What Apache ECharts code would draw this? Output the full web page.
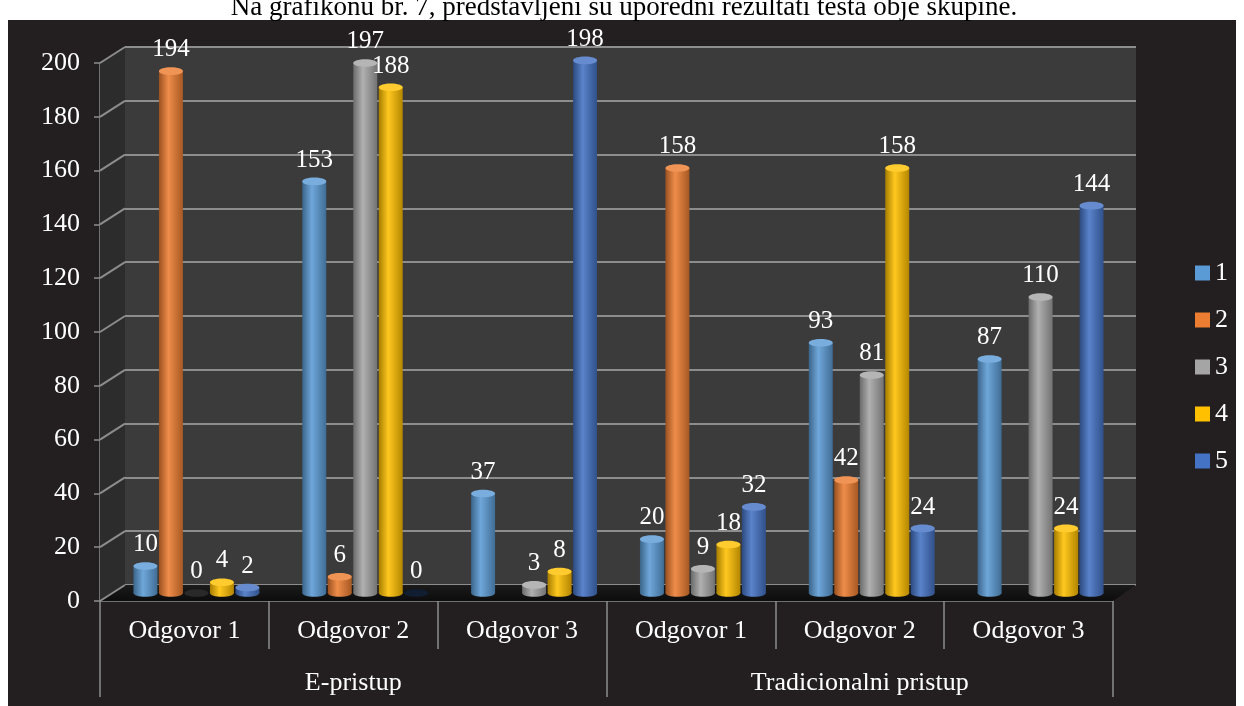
<!DOCTYPE html>
<html>
<head>
<meta charset="utf-8">
<script src="https://cdn.jsdelivr.net/npm/echarts@6/dist/echarts.min.js"></script>
<style>
  html, body { margin: 0; padding: 0; background: #ffffff; }
  #chart { width: 1244px; height: 706px; }
</style>
</head>
<body>
<div id="chart"></div>
<script>
// Answers per question, split by teaching approach
const categories = ['Odgovor 1', 'Odgovor 2', 'Odgovor 3', 'Odgovor 1', 'Odgovor 2', 'Odgovor 3'];
const groups = ['E-pristup', 'Tradicionalni pristup'];
const seriesNames = ['1', '2', '3', '4', '5'];
const values1 = [10, 153, 37, 20, 93, 87];
const values2 = [194, 6, null, 158, 42, null];
const values3 = [0, 197, 3, 9, 81, 110];
const values4 = [4, 188, 8, 18, 158, 24];
const values5 = [2, 0, 198, 32, 24, 144];
const yTicks = [0, 20, 40, 60, 80, 100, 120, 140, 160, 180, 200];
const caption = 'Na grafikonu br. 7, predstavljeni su uporedni rezultati testa obje skupine.';

const allValues = [values1, values2, values3, values4, values5];
const colors = ['#5b9bd5', '#ed7d31', '#a5a5a5', '#ffc000', '#4472c4'];
const FONT = '"Liberation Serif", "Times New Roman", serif';
const GRID_LINE = '#8d8d8d';
const DEPTH_X = 25, DEPTH_Y = 16;

function mix(hex, other, t) {
  const a = parseInt(hex.slice(1), 16), b = parseInt(other.slice(1), 16);
  const ch = (n, s) => (n >> s) & 255;
  const c = s => Math.round(ch(a, s) * (1 - t) + ch(b, s) * t);
  return 'rgb(' + c(16) + ',' + c(8) + ',' + c(0) + ')';
}

// Pseudo-3D walls: left side wall, floor and the slanted tick connectors
function renderWalls(params, api) {
  const cs = params.coordSys;
  const x = cs.x, y = cs.y, w = cs.width, h = cs.height;
  const children = [
    { type: 'polygon', shape: { points: [[x, y], [x + DEPTH_X, y - DEPTH_Y], [x + DEPTH_X, y + h - DEPTH_Y], [x, y + h]] },
      style: { fill: '#2c2c2c' } },
    { type: 'polygon', shape: { points: [[x, y + h], [x + w, y + h], [x + w + DEPTH_X - 2, y + h - DEPTH_Y], [x + DEPTH_X, y + h - DEPTH_Y]] },
      style: { fill: new echarts.graphic.LinearGradient(0, 0, 0, 1, [
        { offset: 0, color: '#1b1b1b' }, { offset: 1, color: '#0c0c0c' }]) } }
  ];
  yTicks.forEach(t => {
    const py = api.coord([0, t])[1];
    children.push({ type: 'line', shape: { x1: x, y1: py, x2: x + DEPTH_X, y2: py - DEPTH_Y },
      style: { stroke: GRID_LINE, lineWidth: 2 } });
  });
  return { type: 'group', children };
}

// Cylinder-shaped bar for one series
function cylinder(idx) {
  const base = colors[idx];
  return function (params, api) {
    const cat = api.value(0), v = api.value(1);
    const band = api.size([1, 0])[0];
    const pitch = band * 0.151, w = band * 0.142, r = w / 2, ry = r * 0.32;
    const p0 = api.coord([cat, 0]), p1 = api.coord([cat, v]);
    const cx = p0[0] + (idx - 2) * pitch;
    const body = new echarts.graphic.LinearGradient(0, 0, 1, 0, [
      { offset: 0, color: mix(base, '#000000', 0.35) },
      { offset: 0.4, color: mix(base, '#ffffff', 0.12) },
      { offset: 1, color: mix(base, '#000000', 0.3) }]);
    const children = [];
    if (v > 0) {
      children.push({ type: 'ellipse', shape: { cx: cx, cy: p0[1], rx: r, ry: ry }, style: { fill: body } });
      children.push({ type: 'rect', shape: { x: cx - r, y: p1[1], width: w, height: p0[1] - p1[1] }, style: { fill: body } });
      children.push({ type: 'ellipse', shape: { cx: cx, cy: p1[1], rx: r, ry: ry }, style: { fill: mix(base, '#ffffff', 0.18) } });
    } else {
      children.push({ type: 'ellipse', shape: { cx: cx, cy: p0[1], rx: r, ry: ry }, style: { fill: mix(base, '#000000', 0.75) } });
    }
    children.push({ type: 'text', style: { text: String(v), x: cx, y: p1[1] - ry - 5, align: 'center', verticalAlign: 'bottom',
      fill: '#ffffff', font: '25px ' + FONT } });
    return { type: 'group', children };
  };
}

const series = [
  { type: 'custom', name: 'walls', xAxisIndex: 0, yAxisIndex: 0, z: 1, silent: true,
    data: [[0, 0]], renderItem: renderWalls }
];
allValues.forEach((vals, i) => {
  series.push({
    type: 'custom', name: seriesNames[i], xAxisIndex: 3, yAxisIndex: 2, z: 3 + i,
    itemStyle: { color: colors[i] },
    encode: { x: 0, y: 1 },
    data: vals.map((v, c) => [c, v]).filter(d => d[1] !== null),
    renderItem: cylinder(i)
  });
});

const axisText = { color: '#ffffff', fontSize: 26, fontFamily: FONT };
const hiddenCat = { type: 'category', data: categories, show: false };

const option = {
  backgroundColor: '#ffffff',
  animation: false,
  graphic: [
    { type: 'rect', z: -10, shape: { x: 8, y: 20, width: 1228, height: 686 }, style: { fill: '#231f20' } },
    { type: 'text', z: -5, x: 624, y: 21, style: { text: caption, align: 'center', verticalAlign: 'bottom',
      fill: '#000000', font: '27px ' + FONT } }
  ],
  grid: [
    { left: 100, top: 63, width: 1013, height: 538 },
    { left: 125, top: 47, width: 1011, height: 538, show: true, backgroundColor: '#3b3b3b', borderWidth: 0 },
    { left: 112, top: 55, width: 1013, height: 538 }
  ],
  xAxis: [
    { type: 'category', gridIndex: 0, position: 'bottom', data: categories,
      axisLine: { show: true, lineStyle: { color: GRID_LINE, width: 1.5 } },
      axisTick: { show: true, length: 48, interval: 0, lineStyle: { color: GRID_LINE, width: 1.5 } },
      axisLabel: Object.assign({ margin: 17, interval: 0 }, axisText) },
    { type: 'category', gridIndex: 0, position: 'bottom', data: groups,
      axisLine: { show: false },
      axisTick: { show: true, length: 96, interval: 0, lineStyle: { color: GRID_LINE, width: 1.5 } },
      axisLabel: Object.assign({ margin: 69, interval: 0 }, axisText) },
    Object.assign({ gridIndex: 1 }, hiddenCat),
    Object.assign({ gridIndex: 2 }, hiddenCat)
  ],
  yAxis: [
    { type: 'value', gridIndex: 0, min: 0, max: 200, interval: 20,
      axisLine: { show: true, lineStyle: { color: GRID_LINE, width: 1.5 } },
      axisTick: { show: true, length: 6, lineStyle: { color: GRID_LINE, width: 1.5 } },
      splitLine: { show: false },
      axisLabel: Object.assign({ margin: 20 }, axisText) },
    { type: 'value', gridIndex: 1, min: 0, max: 200, interval: 20,
      axisLine: { show: false }, axisTick: { show: false }, axisLabel: { show: false },
      splitLine: { show: true, lineStyle: { color: GRID_LINE, width: 2 } } },
    { type: 'value', gridIndex: 2, min: 0, max: 200, interval: 20, show: false, splitLine: { show: false } }
  ],
  legend: {
    data: seriesNames.map(n => ({ name: n, icon: 'rect' })),
    orient: 'vertical', left: 1195, top: 260, padding: 0,
    itemWidth: 15, itemHeight: 15, itemGap: 21,
    textStyle: { color: '#ffffff', fontSize: 26, fontFamily: FONT, lineHeight: 24 },
    selectedMode: false
  },
  series: series
};

const chart = echarts.init(document.getElementById('chart'), null, { renderer: 'canvas' });
chart.setOption(option);
</script>
</body>
</html>
